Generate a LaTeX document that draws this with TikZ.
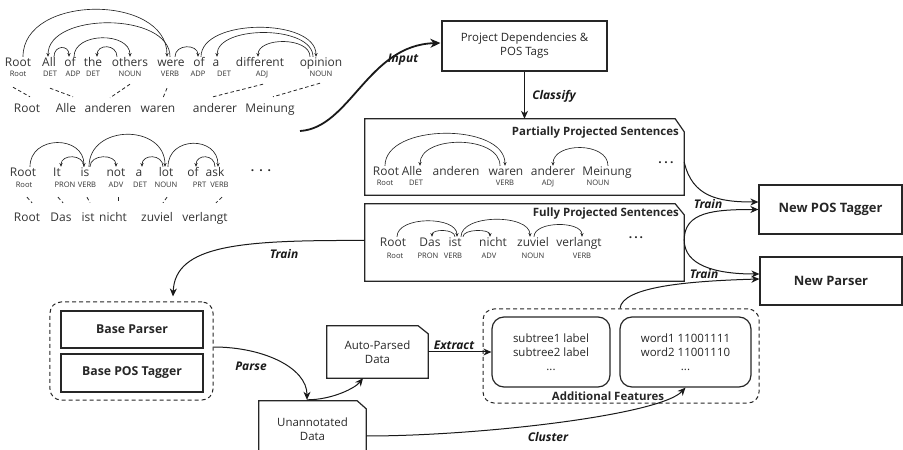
\documentclass[tikz,border=0pt]{standalone}
\usepackage{fontspec}
\setmainfont{Open Sans}
\usetikzlibrary{arrows.meta,calc}

\newcommand\wordfont{\fontsize{12}{14}\selectfont}
\newcommand\tagfont{\fontsize{7.6}{9}\selectfont}
\newcommand\boxfont{\fontsize{11.5}{14}\selectfont}
\newcommand\labfont{\fontsize{12}{14}\selectfont\bfseries\itshape}
\newcommand\ttlfont{\fontsize{11.5}{14}\selectfont\bfseries}
\newcommand\baseboxfont{\fontsize{12.3}{14}\selectfont\bfseries}
\newcommand\bigboxfont{\fontsize{13}{15}\selectfont\bfseries}

% dependency arc: from node, x offset, to node, x offset, control height
\newcommand\arcdep[5]{\draw[dep] ($(#1.north)+(#2,-1)$) .. controls +(0,-#5) and +(0,-#5) .. ($(#3.north)+(#4,-1)$);}
% box with its top right corner cut off
\newcommand\cutbox[3]{\draw[box] (#1.south west) -- (#1.north west) -- ($(#1.north east)+(-#2,0)$) -- ($(#1.north east)+(0,#3)$) -- (#1.south east) -- cycle;}

\begin{document}
\begin{tikzpicture}[x=1bp,y=-1bp,
  wd/.style={font=\wordfont, text=black!80, inner sep=0pt, text height=9bp, text depth=2.5bp, anchor=base},
  tg/.style={font=\tagfont, text=black!80, inner sep=0pt, text height=5.5bp, text depth=1bp, anchor=base},
  dep/.style={line width=0.65bp, draw=black!85, -{Stealth[length=3.8bp,width=3.2bp]}},
  aln/.style={line width=0.8bp, draw=black!85, dash pattern=on 3.5bp off 2.5bp},
  box/.style={draw=black!85, line width=1.2bp},
  plain/.style={inner sep=0pt, text=black!85, font=\boxfont, align=center},
  flow/.style={line width=1bp, draw=black!90, -{Stealth[length=8bp,width=7bp,inset=2.5bp]}},
  flowthick/.style={line width=1.8bp, draw=black!90, -{Stealth[length=10bp,width=9bp,inset=3bp]}},
  lab/.style={font=\labfont, text=black!90, inner sep=0pt},
  grp/.style={draw=black!85, line width=1bp, dash pattern=on 4bp off 3bp, rounded corners=11bp},
  dotsn/.style={font=\fontsize{12}{14}\selectfont\bfseries, inner sep=0pt, text=black!85},
]
\useasboundingbox (0,0) rectangle (903,450);
\clip (0,0) rectangle (903,450);

% ---------- first example sentence ----------
\node[wd] (a1) at (18,67) {Root};
\node[wd] (a2) at (49,67) {All};
\node[wd] (a3) at (70,67) {of};
\node[wd] (a4) at (93,67) {the};
\node[wd] (a5) at (130,67) {others};
\node[wd] (a6) at (171,67) {were};
\node[wd] (a7) at (199,67) {of};
\node[wd] (a8) at (216,67) {a};
\node[wd] (a9) at (260,67) {different};
\node[wd] (a10) at (321,67) {opinion};

\node[tg] (at1) at (18,76.5) {Root};
\node[tg] (at2) at (50,76.5) {DET};
\node[tg] (at3) at (73,76.5) {ADP};
\node[tg] (at4) at (93,76.5) {DET};
\node[tg] (at5) at (130,76.5) {NOUN};
\node[tg] (at6) at (170,76.5) {VERB};
\node[tg] (at7) at (198,76.5) {ADP};
\node[tg] (at8) at (224,76.5) {DET};
\node[tg] (at9) at (262,76.5) {ADJ};
\node[tg] (at10) at (321,76.5) {NOUN};

\node[wd] (ag1) at (27,113) {Root};
\node[wd] (ag2) at (66,113) {Alle};
\node[wd] (ag3) at (108,113) {anderen};
\node[wd] (ag4) at (158,113) {waren};
\node[wd] (ag5) at (215,113) {anderer};
\node[wd] (ag6) at (270,113) {Meinung};

\draw[aln] ($(at1.south)+(-5,9.5)$) -- ($(ag1.north)+(3,-7)$);
\draw[aln] ($(at2.south)+(0,10.5)$) -- ($(ag2.north)+(7,-7)$);
\draw[aln] ($(at5.south)+(0,6.5)$) -- ($(ag3.north)+(2,-6)$);
\draw[aln] ($(at6.south)+(-3,10.5)$) -- ($(ag4.north)+(5,-6)$);
\draw[aln] ($(at9.south)+(1,6.5)$) -- ($(ag5.north)+(-2,-7)$);
\draw[aln] ($(at10.south)+(-1,5.5)$) -- ($(ag6.north)+(3,-7)$);

\arcdep{a1}{5}{a6}{-4}{63}
\arcdep{a6}{-1}{a2}{-1}{45}
\arcdep{a2}{5}{a3}{-1}{12}
\arcdep{a3}{4}{a5}{0}{25}
\arcdep{a5}{-13}{a4}{4}{13}
\arcdep{a6}{4}{a7}{-1}{13}
\arcdep{a7}{2}{a10}{-5}{39}
\arcdep{a10}{-8}{a8}{1}{32}
\arcdep{a10}{-11}{a9}{-2}{20}

% ---------- second example sentence ----------
\node[wd] (b1) at (23,177) {Root};
\node[wd] (b2) at (57,177) {It};
\node[wd] (b3) at (85,177) {is};
\node[wd] (b4) at (116,177) {not};
\node[wd] (b5) at (139,177) {a};
\node[wd] (b6) at (166,177) {lot};
\node[wd] (b7) at (193,177) {of};
\node[wd] (b8) at (215,177) {ask};
\node[dotsn] (bdots) at (261,171) {.\hspace{5bp}.\hspace{5bp}.};

\node[tg] (bt1) at (24,188) {Root};
\node[tg] (bt2) at (65,188) {PRON};
\node[tg] (bt3) at (87,188) {VERB};
\node[tg] (bt4) at (116,188) {ADV};
\node[tg] (bt5) at (140,188) {DET};
\node[tg] (bt6) at (166,188) {NOUN};
\node[tg] (bt7) at (199.5,188) {PRT};
\node[tg] (bt8) at (219.5,188) {VERB};

\node[wd] (bg1) at (27,222) {Root};
\node[wd] (bg2) at (61,222) {Das};
\node[wd] (bg3) at (88,222) {ist};
\node[wd] (bg4) at (113,222) {nicht};
\node[wd] (bg5) at (157,222) {zuviel};
\node[wd] (bg6) at (205,222) {verlangt};

\draw[aln] ($(bt1.south)+(3,8)$) -- ($(bg1.north)+(5,-10)$);
\draw[aln] ($(bt2.south)+(-7,8)$) -- ($(bg2.north)+(2,-10)$);
\draw[aln] ($(bt3.south)+(0,8)$) -- ($(bg3.north)+(2,-10)$);
\draw[aln] ($(bt4.south)+(2,8)$) -- ($(bg4.north)+(5,-10)$);
\draw[aln] ($(bt6.south)+(1,8)$) -- ($(bg5.north)+(6,-10)$);
\draw[aln] ($(bt8.south)+(2.5,8)$) -- ($(bg6.north)+(11,-10)$);

\arcdep{b1}{7}{b3}{-1}{32}
\arcdep{b3}{-1}{b2}{4}{13}
\arcdep{b3}{5}{b4}{0}{13}
\arcdep{b3}{4}{b6}{-1}{43}
\arcdep{b6}{-3}{b5}{3}{13}
\arcdep{b6}{2}{b8}{3}{31}
\arcdep{b8}{0}{b7}{3}{13}

% ---------- projection step ----------
\node[plain, box, minimum width=165bp, minimum height=50bp] (proj) at (524.5,46)
  {Project Dependencies \&\\POS Tags};

\node[minimum width=319bp, minimum height=76bp, inner sep=0pt] (partial) at (524.5,157) {};
\cutbox{partial}{9}{13}
\node[minimum width=319bp, minimum height=77bp, inner sep=0pt] (fully) at (524.5,242.5) {};
\cutbox{fully}{9}{11}

\node[font=\ttlfont, text=black!85, inner sep=0pt, anchor=base east] (ptitle) at (679,136) {Partially Projected Sentences};
\node[font=\ttlfont, text=black!85, inner sep=0pt, anchor=base east] (ftitle) at (679,217) {Fully Projected Sentences};

% partially projected sentence
\node[wd] (c1) at (386,176) {Root};
\node[wd] (c2) at (412,176) {Alle};
\node[wd] (c3) at (456,176) {anderen};
\node[wd] (c4) at (506,176) {waren};
\node[wd] (c5) at (553,176) {anderer};
\node[wd] (c6) at (607,176) {Meinung};
\node[dotsn] (cdots) at (666,163) {.\hspace{2.5bp}.\hspace{2.5bp}.};
\node[tg] (ct1) at (385,186) {Root};
\node[tg] (ct2) at (416,186) {DET};
\node[tg] (ct4) at (505,186) {VERB};
\node[tg] (ct5) at (548,186) {ADJ};
\node[tg] (ct6) at (598,186) {NOUN};
\arcdep{c1}{-1}{c4}{-1}{43}
\arcdep{c4}{-6}{c2}{8}{31}
\arcdep{c6}{1}{c5}{0}{24}

% fully projected sentence
\node[wd] (d1) at (393,247) {Root};
\node[wd] (d2) at (430,247) {Das};
\node[wd] (d3) at (455,247) {ist};
\node[wd] (d4) at (493,247) {nicht};
\node[wd] (d5) at (533,247) {zuviel};
\node[wd] (d6) at (579,247) {verlangt};
\node[dotsn] (ddots) at (636,238) {.\hspace{2bp}.\hspace{2bp}.};
\node[tg] (dt1) at (395,259) {Root};
\node[tg] (dt2) at (428,259) {PRON};
\node[tg] (dt3) at (453,259) {VERB};
\node[tg] (dt4) at (489,259) {ADV};
\node[tg] (dt5) at (533,259) {NOUN};
\node[tg] (dt6) at (582,259) {VERB};
\arcdep{d1}{4}{d3}{2}{21}
\arcdep{d3}{0}{d2}{2}{8}
\arcdep{d3}{8}{d4}{-3}{8}
\arcdep{d3}{6}{d5}{-3}{23}
\arcdep{d5}{1}{d6}{3}{16}

% ---------- new models ----------
\node[box, inner sep=0pt, minimum width=143bp, minimum height=49bp, font=\bigboxfont, text=black!85] (newpos) at (830.5,209.5) {New POS Tagger};
\node[box, inner sep=0pt, minimum width=142bp, minimum height=48bp, font=\bigboxfont, text=black!85] (newparser) at (831,281) {New Parser};

% ---------- base models ----------
\node[grp, minimum width=163bp, minimum height=98bp, inner sep=0pt] (basegrp) at (131.5,351) {};
\node[box, inner sep=0pt, minimum width=142bp, minimum height=37bp, font=\baseboxfont, text=black!85] (bparser) at (132,329.5) {Base Parser};
\node[box, inner sep=0pt, minimum width=142bp, minimum height=38bp, font=\baseboxfont, text=black!85] (bpos) at (132,373) {Base POS Tagger};

% ---------- data ----------
\node[plain, minimum width=101bp, minimum height=52bp] (autop) at (377.5,352) {Auto-Parsed\\Data};
\cutbox{autop}{10}{8}
\node[plain, minimum width=107bp, minimum height=56bp] (unann) at (312.5,429) {Unannotated\\Data};
\cutbox{unann}{9}{8}

% ---------- additional features ----------
\node[grp, minimum width=276bp, minimum height=94bp, inner sep=0pt] (addgrp) at (621,356) {};
\node[box, rounded corners=12bp, plain, minimum width=118bp, minimum height=70bp] (subtree) at (551,352)
  {subtree1 label\\subtree2 label\\...};
\node[box, rounded corners=12bp, plain, minimum width=131bp, minimum height=70bp] (wordbox) at (685.5,352)
  {word1 11001111\\word2 11001110\\...};
\node[font=\ttlfont, text=black!85, inner sep=0pt] (addlab) at (608,396) {Additional Features};

% ---------- flow ----------
\coordinate (inp) at (300,131);
\draw[flowthick] (inp) .. controls (350,128) and (368,45) .. ($(proj.west)+(-1,-3)$);
\node[lab] (linput) at (403,60) {Input};

\draw[flow] (proj.south) -- (partial.north);
\node[lab] (lclass) at (554,96) {Classify};

\draw[flow] ($(partial.east)+(0,5)$) .. controls +(8,35) and +(-40,0) .. ($(newpos.west)+(0,-7.5)$);
\draw[flow] ($(fully.east)+(0,-2.5)$) .. controls +(0,-28) and +(-45,0) .. (newpos.west);
\node[lab] (ltrain1) at (708,204) {Train};
\draw[flow] ($(fully.east)+(0,-2.5)$) .. controls +(0,25) and +(-45,0) .. ($(newparser.west)+(0,-7)$);
\draw[flow] ($(addgrp.north)+(-1,0)$) .. controls +(2,-22) and +(-70,2) .. ($(newparser.west)+(0,-2)$);
\node[lab] (ltrain2) at (704,274) {Train};

\draw[flow] ($(fully.west)+(0,-2)$) .. controls (240,240) and (175,245) .. ($(basegrp.north)+(41.5,-5)$);
\node[lab] (ltrain3) at (284,254) {Train};

\draw[flow] ($(basegrp.east)+(0,-4)$) .. controls +(50,0) and +(0,-32) .. ($(unann.north)+(-5.5,-1)$);
\node[lab] (lparse) at (251,366) {Parse};

\draw[flow] ($(unann.north)+(-5.5,-1)$) .. controls +(25,0) and +(-8,10) .. ($(autop.south)+(-14.5,0)$);

\draw[flow] (autop.east) -- (subtree.west);
\node[lab] (lextract) at (454,345) {Extract};

\draw[flow] ($(unann.east)+(0,7)$) .. controls (480,436) and (660,415) .. (wordbox.south);
\node[lab] (lcluster) at (548,437) {Cluster};
\end{tikzpicture}
\end{document}
